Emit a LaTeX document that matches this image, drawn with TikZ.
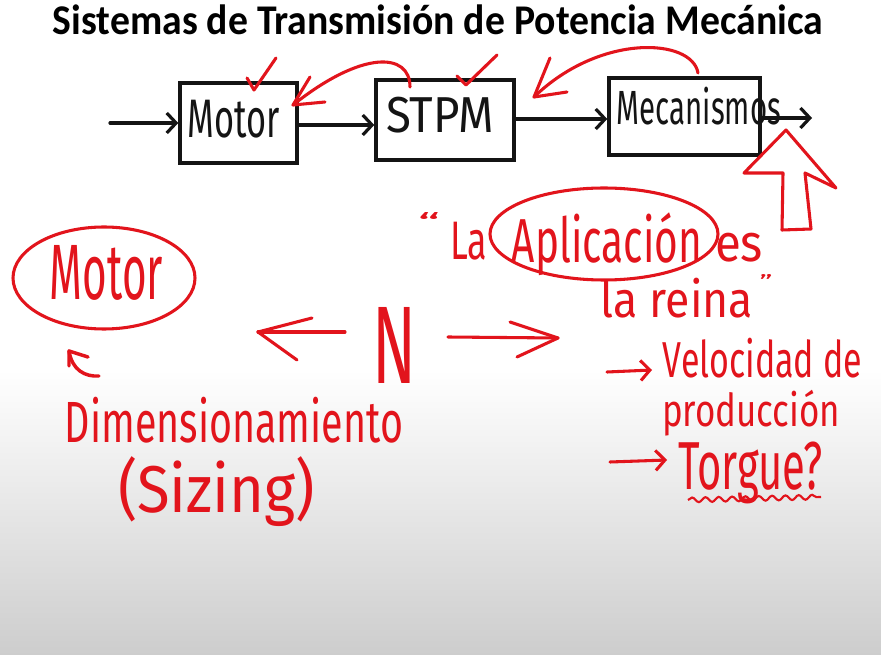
\documentclass[tikz,border=0pt]{standalone}
\usepackage{graphicx}
\usepackage{fontspec}
\setmainfont{Carlito}
\newfontfamily\hand{Fira Sans}
\usetikzlibrary{arrows.meta,decorations.pathmorphing,shapes.geometric}
\definecolor{ink}{HTML}{E2141C}
\definecolor{pen}{HTML}{141414}
\definecolor{paperlow}{HTML}{CDCDCD}
% one unit of the picture
\newlength\px
\setlength\px{0.75pt}
% handwritten word stretched to a given ink box (width, height in units)
\newcommand\hw[3]{\resizebox*{#1\px}{#2\px}{\hand #3}}
\tikzset{
  blockbox/.style={draw=pen,line width=2.6pt,inner sep=0pt},
  blackpen/.style={draw=pen,line width=2.4pt,line cap=round,line join=round},
  redpen/.style={draw=ink,line width=2.3pt,line cap=round,line join=round},
  word/.style={inner sep=0pt,outer sep=0pt},
  redword/.style={word,text=ink},
  blackword/.style={word,text=pen},
  barb/.style={-{Straight Barb[length=7pt,width=15pt]}},
}
\begin{document}
\begin{tikzpicture}[x=0.75pt,y=-0.75pt]
\useasboundingbox (0,0) rectangle (881,655);
% paper
\fill[white] (0,0) rectangle (881,655);
\shade[top color=white,bottom color=paperlow] (0,370) rectangle (881,655);

% title
\node[word] (title) at (438,20)
  {\resizebox*{770\px}{30\px}{\bfseries Sistemas de Transmisión de Potencia Mecánica}};

% block diagram
\node[blockbox,minimum width=117\px,minimum height=80\px] (motor) at (238.5,123) {};
\node[blockbox,minimum width=138\px,minimum height=80\px] (stpm) at (445,120) {};
\node[blockbox,minimum width=151\px,minimum height=77\px] (mec) at (684.5,116.5) {};
\node[blackword] (motortxt) at (234,119) {\hw{92}{38}{Motor}};
\node[blackword] (stpmtxt) at (440,115) {\hw{108}{36}{STPM}};
\node[blackword] (mectxt) at (699,106) {\hw{164}{38}{Mecanismos}};

\coordinate (in) at (110,123);
\coordinate (out) at (812,118);
\draw[blackpen,barb] (in) -- (in -| motor.west);
\draw[blackpen,barb] (motor.east |- 0,125) -- (stpm.west |- 0,125);
\draw[blackpen,barb] (stpm.east |- 0,119) -- (mec.west |- 0,119);
\draw[blackpen,barb] (mec.east |- out) -- (out);

% red marks over the blocks
\draw[redpen] (247,78) -- (254,90) -- (276,58);
\draw[redpen] (457,76) -- (466,85) -- (497,55);
\coordinate (fbA) at (410,87);
\coordinate (fbAtip) at (293,105);
\draw[redpen] (fbA) .. controls (410,52) and (362,50) .. (fbAtip);
\draw[redpen] (310,77) -- (fbAtip) -- (325,102);
\coordinate (fbB) at (698,73);
\coordinate (fbBtip) at (534,97);
\draw[redpen] (fbB) .. controls (692,38) and (600,33) .. (fbBtip);
\draw[redpen] (550,58) -- (fbBtip) -- (567,92);

% hollow up arrow under the output
\draw[redpen] (786,130) -- (836,188) -- (805,173) -- (811,229) -- (782,230)
  -- (783,173) -- (744,173) -- cycle;

% left side: motor sizing
\node[draw=ink,line width=2.3pt,ellipse,minimum width=182\px,minimum height=102\px,inner sep=0pt]
  (motorring) at (104,278) {};
\node[redword] (motorred) at (106.5,272.5) {\hw{113}{55}{Motor}};
\coordinate (hooktip) at (69,351);
\draw[redpen,line width=2.6pt] (hooktip) .. controls (72,370) and (85,377) .. (99,376);
\draw[redpen,line width=2.6pt] (88,357) -- (hooktip) -- (69,366);
\node[redword] (dimen) at (234,420) {\hw{338}{46}{Dimensionamiento}};
\node[redword] (sizing) at (216.5,492) {\hw{197}{70}{(Sizing)}};

% centre N with its two arrows
\node[redword] (nn) at (395,345) {\hw{44}{76}{N}};
\coordinate (lA) at (345,332);
\coordinate (lB) at (258,332);
\draw[redpen] (lA) -- (lB);
\draw[redpen] (312,318) -- (lB) -- (297,360);
\coordinate (rA) at (448,337);
\coordinate (rB) at (558,338);
\draw[redpen] (rA) -- (rB);
\draw[redpen] (510,322) -- (rB) -- (517,357);

% quote about the application
\node[redword] (qopen) at (429,223) {\hw{22}{20}{“}};
\node[redword] (la) at (468.5,241) {\hw{37}{38}{La}};
\node[draw=ink,line width=2.3pt,ellipse,minimum width=228\px,minimum height=92\px,inner sep=0pt]
  (appring) at (604,234) {};
\node[redword] (aplic) at (607,244) {\hw{190}{63}{Aplicación}};
\node[redword] (es) at (739,247.5) {\hw{48}{29}{es}};
\node[redword] (reina) at (677,298) {\hw{152}{40}{la reina}};
\node[redword] (qclose) at (766,282) {\hw{13}{14}{”}};

% consequences
\coordinate (vA) at (607,372);
\coordinate (vB) at (652,370);
\draw[redpen,barb] (vA) -- (vB);
\node[redword] (veloc) at (762.5,358) {\hw{199}{40}{Velocidad de}};
\node[redword] (produc) at (751,413) {\hw{178}{46}{producción}};
\coordinate (tA) at (610,462);
\coordinate (tB) at (667,460);
\draw[redpen,barb] (tA) -- (tB);
\node[redword] (torque) at (750.5,473) {\hw{145}{62}{Torgue?}};
\draw[draw=ink,line width=1.6pt,decorate,
  decoration={snake,amplitude=1.8pt,segment length=10pt}] (688,500) -- (821,497);
\end{tikzpicture}
\end{document}
